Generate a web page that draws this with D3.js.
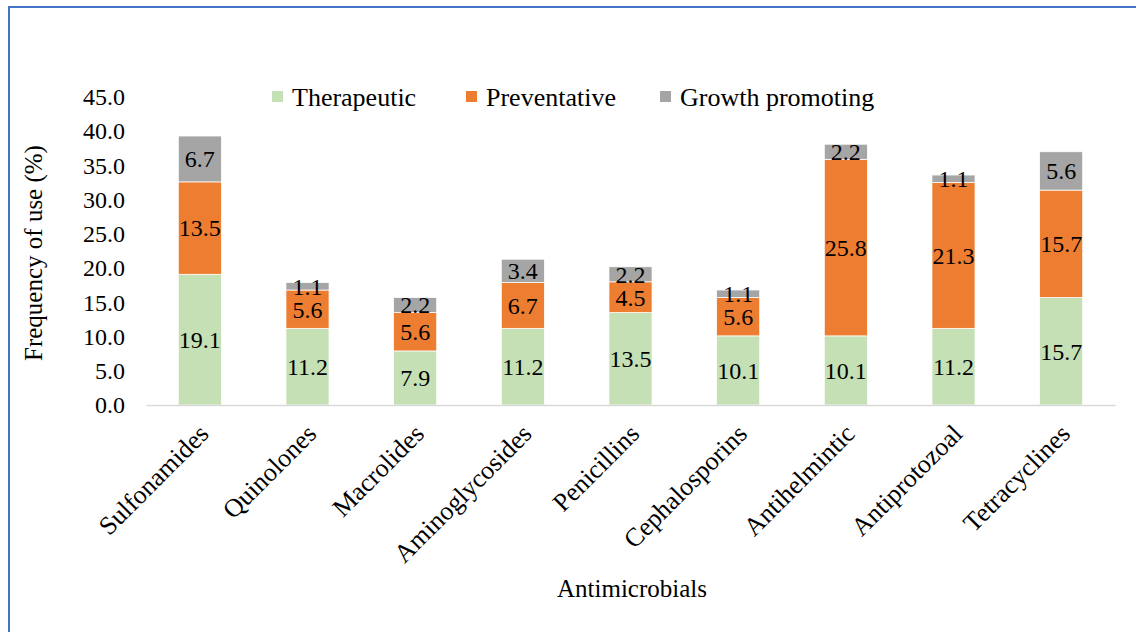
<!DOCTYPE html>
<html><head><meta charset="utf-8">
<script src="https://cdn.jsdelivr.net/npm/d3@7"></script>
<style>html,body{margin:0;padding:0;background:#fff;overflow:hidden}</style>
</head><body>
<svg id="c" width="1136" height="632"></svg>
<script>
const categories = ["Sulfonamides","Quinolones","Macrolides","Aminoglycosides","Penicillins","Cephalosporins","Antihelmintic","Antiprotozoal","Tetracyclines"];
const seriesNames = ["Therapeutic","Preventative","Growth promoting"];
const therapeutic = [19.1,11.2,7.9,11.2,13.5,10.1,10.1,11.2,15.7];
const preventative = [13.5,5.6,5.6,6.7,4.5,5.6,25.8,21.3,15.7];
const growthPromoting = [6.7,1.1,2.2,3.4,2.2,1.1,2.2,1.1,5.6];
const yTicks = [0,5,10,15,20,25,30,35,40,45];
const colors = ["#C5E0B4","#ED7D31","#A5A5A5"];

const svg = d3.select("#c");
const FF = '"Liberation Serif"';

// border
svg.append("line").attr("x1",9).attr("x2",1136).attr("y1",7).attr("y2",7).attr("stroke","#4472C4").attr("stroke-width",2);
svg.append("line").attr("x1",9).attr("x2",9).attr("y1",6).attr("y2",632).attr("stroke","#4472C4").attr("stroke-width",2);

const x0 = 146, x1 = 1115, yTop = 97, yBot = 405;
const x = d3.scaleBand().domain(categories).range([x0,x1]).padding(0);
const y = d3.scaleLinear().domain([0,45]).range([yBot,yTop]);
const barW = x.bandwidth()*0.4;

const rows = categories.map((c,i)=>({cat:c, Therapeutic:therapeutic[i], Preventative:preventative[i], "Growth promoting":growthPromoting[i]}));
const stack = d3.stack().keys(seriesNames)(rows);

// y axis (labels only)
const yAxis = d3.axisLeft(y).tickValues(yTicks).tickFormat(d3.format(".1f")).tickSize(0).tickPadding(21);
const ya = svg.append("g").attr("transform",`translate(${x0},0)`).call(yAxis);
ya.select(".domain").remove();
ya.selectAll("text").style("font-family",FF).style("font-size","24px").attr("fill","#000");

// bars
stack.forEach((s,si)=>{
  const g = svg.append("g");
  g.selectAll("rect").data(s).join("rect")
    .attr("x",d=>x(d.data.cat)+(x.bandwidth()-barW)/2)
    .attr("y",d=>y(d[1]))
    .attr("width",barW)
    .attr("height",d=>y(d[0])-y(d[1]))
    .attr("fill",colors[si])
    .attr("stroke","#fff").attr("stroke-width",0.75);
  g.selectAll("text").data(s).join("text")
    .attr("x",d=>x(d.data.cat)+x.bandwidth()/2)
    .attr("y",d=>(y(d[0])+y(d[1]))/2)
    .attr("dy","0.35em")
    .attr("text-anchor","middle")
    .style("font-family",FF).style("font-size","24px").attr("fill","#000")
    .text(d=>d3.format(".1f")(d[1]-d[0]));
});

// x axis
const xAxis = d3.axisBottom(x).tickSize(0).tickPadding(0);
const xa = svg.append("g").attr("transform",`translate(0,${yBot})`).call(xAxis);
xa.select(".domain").attr("stroke","#D9D9D9").attr("stroke-width",1.5);
xa.selectAll("text")
  .style("font-family",FF).style("font-size","26px").attr("fill","#000")
  .attr("text-anchor","end")
  .attr("dy","0.35em")
  .attr("transform","translate(4,24) rotate(-45)");

// axis titles
svg.append("text").attr("transform","translate(42,253) rotate(-90)")
  .attr("text-anchor","middle").style("font-family",FF).style("font-size","25px").text("Frequency of use (%)");
svg.append("text").attr("x",632).attr("y",597)
  .attr("text-anchor","middle").style("font-family",FF).style("font-size","25px").text("Antimicrobials");

// legend
const legX = [272,466,660];
const lg = svg.append("g");
seriesNames.forEach((n,i)=>{
  lg.append("rect").attr("x",legX[i]).attr("y",91).attr("width",11).attr("height",11).attr("fill",colors[i]);
  lg.append("text").attr("x",legX[i]+20).attr("y",97).attr("dy","0.35em")
    .style("font-family",FF).style("font-size","26px").text(n);
});
</script>
</body></html>
